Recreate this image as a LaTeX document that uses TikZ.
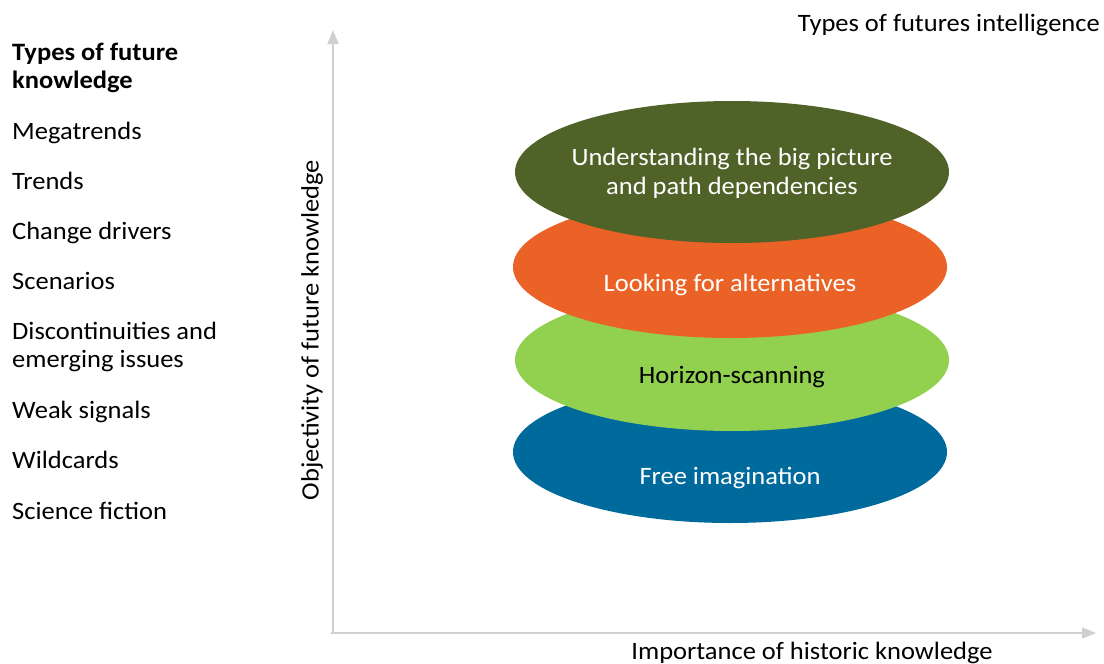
\documentclass[tikz,border=0pt]{standalone}
\usepackage{fontspec}
\setmainfont[FakeStretch=1.06]{Carlito}
\usepackage{tikz}
\usetikzlibrary{positioning,arrows.meta,shapes.geometric}
\definecolor{olivegreen}{HTML}{4F6228}
\definecolor{futorange}{HTML}{EA6226}
\definecolor{limegreen}{HTML}{92D050}
\definecolor{seablue}{HTML}{006A9C}
\definecolor{axisgray}{HTML}{D0D0D0}
\tikzset{
	layer/.style={ellipse, minimum width=434pt, minimum height=142pt, inner sep=0pt},
	layertext/.style={align=center, inner sep=0pt, font=\fontsize{25}{29}\selectfont},
	listitem/.style={anchor=base west, align=left, inner sep=0pt, font=\fontsize{25}{28}\selectfont},
	axis/.style={draw=axisgray, line width=1.6pt, -{Triangle[length=14pt,width=11pt]}},
}

\begin{document}
\begin{tikzpicture}[x=1pt, y=-1pt]
        \useasboundingbox (0,0) rectangle (1104,664);
        % axes
        \coordinate (origin) at (333,633);
        \coordinate (ytop) at (333,30);
        \coordinate (xend) at (1096,633);
        \draw[axis] (origin) -- (ytop);
        \draw[axis] ([xshift=-2pt]origin) -- (xend);
        \node[font=\fontsize{25}{29}\selectfont, anchor=base, inner sep=0pt] (xlabel) at (812,659) {Importance of historic knowledge};
        \node[font=\fontsize{25}{29}\selectfont, rotate=90, inner sep=0pt] (ylabel) at (312,330) {Objectivity of future knowledge};
        \node[font=\fontsize{25}{29}\selectfont, anchor=base east, inner sep=0pt] (title) at (1100,31) {Types of futures intelligence};
        % layers, bottom first
        \node[layer, fill=seablue] (free) at (730,452) {};
        \node[layer, fill=limegreen] (horizon) at (732,360) {};
        \node[layer, fill=futorange] (alternatives) at (730,267) {};
        \node[layer, fill=olivegreen] (bigpicture) at (732,172) {};
        \node[layertext, text=white] at ([yshift=-26pt]free.center) {Free imagination};
        \node[layertext] at ([yshift=-17pt]horizon.center) {Horizon-scanning};
        \node[layertext, text=white] at ([yshift=-18pt]alternatives.center) {Looking for alternatives};
        \node[layertext, text=white] at ([yshift=-1pt]bigpicture.center) {Understanding the big picture\\and path dependencies};
        % types of future knowledge (base = last line)
        \node[listitem, font=\fontsize{25}{28}\selectfont\bfseries] (knowledge) at (12,88) {Types of future\\knowledge};
        \node[listitem] (megatrends) at (12,139) {Megatrends};
        \node[listitem] (trends) at (12,189) {Trends};
        \node[listitem] (drivers) at (12,239) {Change drivers};
        \node[listitem] (scenarios) at (12,289) {Scenarios};
        \node[listitem] (discontinuities) at (12,367) {Discontinuities and\\emerging issues};
        \node[listitem] (weaksignals) at (12,418) {Weak signals};
        \node[listitem] (wildcards) at (12,468) {Wildcards};
        \node[listitem] (scifi) at (12,519) {Science fiction};
    \end{tikzpicture}
\end{document}
